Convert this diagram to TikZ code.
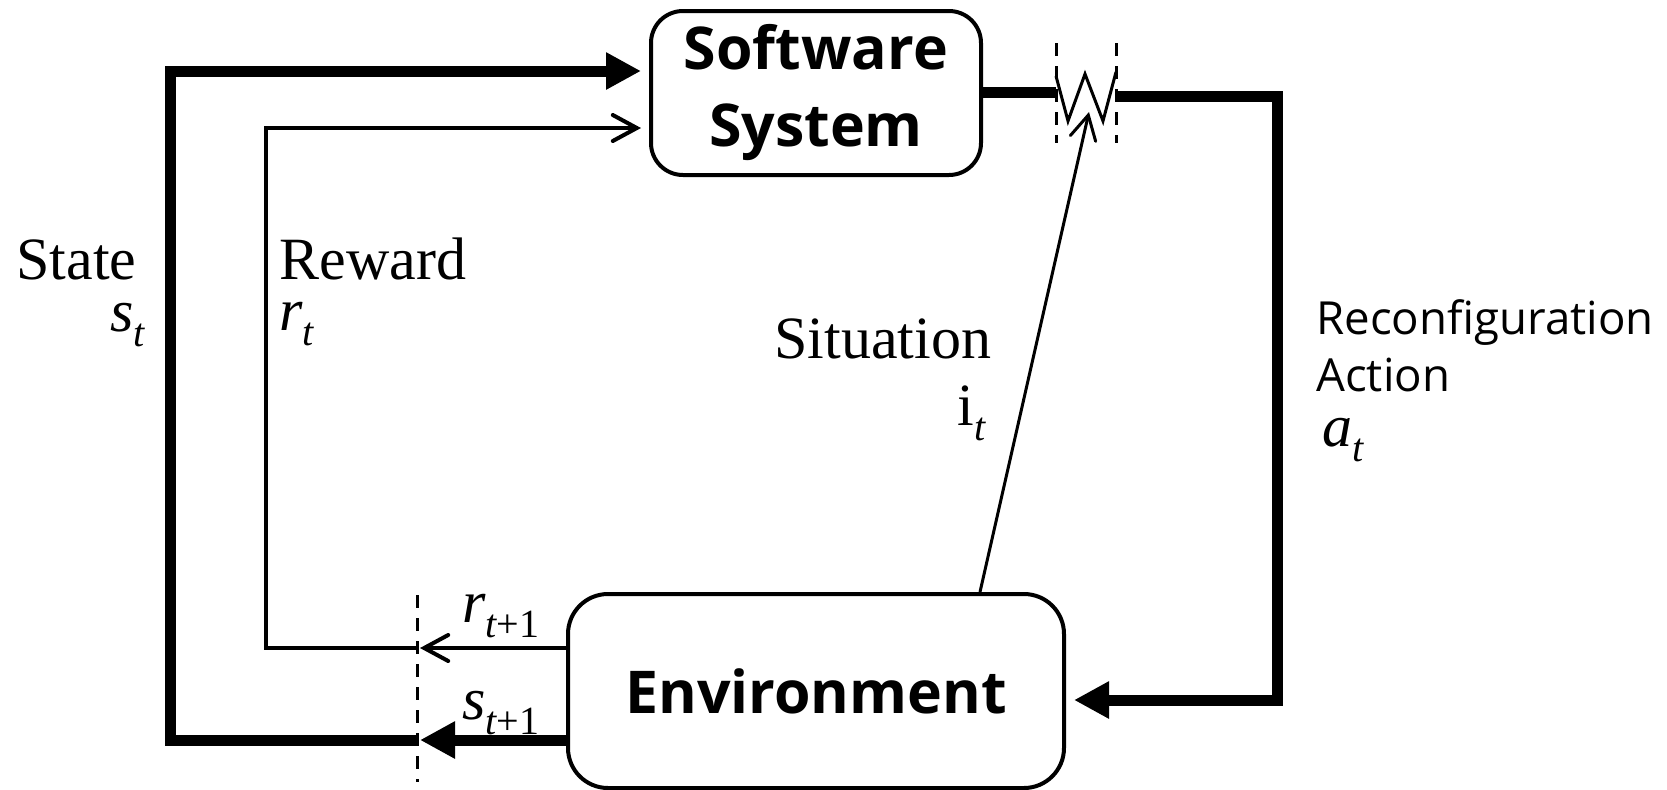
\documentclass[tikz,border=0pt]{standalone}
\usepackage{fontspec}
\setmainfont{Liberation Serif}
\newfontfamily\uisans{Open Sans}
\usetikzlibrary{arrows.meta}

% lowered subscript in the label size
\newcommand\lowsub[1]{\raisebox{-7.5pt}{\fontsize{20}{20}\selectfont #1}}

\begin{document}
\begin{tikzpicture}[x=0.5pt,y=-0.5pt,
  box/.style={draw, line width=2pt, align=center, inner sep=0pt,
    font=\uisans\bfseries\fontsize{29.5}{38.5}\selectfont},
  heavy/.style={line width=5.5pt},
  light/.style={line width=2pt},
  bigtip/.style={-{Triangle[length=17.5pt,width=17.5pt]}},
  smalltip/.style={-{Straight Barb[length=12pt,width=13pt,line cap=round]}},
  gate/.style={line width=1.5pt, dash pattern=on 6.5pt off 5pt},
  lbl/.style={font=\fontsize{30}{30}\selectfont, inner sep=0pt},
  sanslbl/.style={font=\uisans\fontsize{22.8}{28}\selectfont, inner sep=0pt}
]
\useasboundingbox (0,0) rectangle (1667,789);

% the two blocks
\node[box, rounded corners=16pt, minimum width=165pt, minimum height=82pt]
  (sw) at (816,93) {Software\\System};
\node[box, rounded corners=20pt, minimum width=248pt, minimum height=97pt]
  (env) at (816,691) {Environment};

% switch between the software system and the action line
\coordinate (swL) at (1056,92);
\coordinate (swR) at (1116,96);
\draw[gate] (1056,43) -- (1056,143);
\draw[gate] (1116,43) -- (1116,143);
\draw[line width=1.5pt] (1056,76) -- (1068,121) -- (1085,74) -- (1103,121) -- (1116,72);
\coordinate (sel) at (1089,112);

% sampling instant at the feedback lines
\coordinate (gr) at (417,648);
\coordinate (gs) at (417,740);
\draw[gate] (417,595) -- (417,782);

% corner points of the loops
\coordinate (cs1) at (170,740);
\coordinate (cs2) at (170,71);
\coordinate (cr1) at (266,648);
\coordinate (cr2) at (266,128);
\coordinate (ca1) at (1277,96);
\coordinate (ca2) at (1277,700);

% connectors
\draw[heavy] (sw.east |- swL) -- (swL);
\draw[heavy, bigtip] (swR) -- (ca1) -- (ca2) -- ([shift={(4pt,-4.5pt)}]env.east);
\draw[heavy, bigtip] (gs) -- (cs1) -- (cs2) -- ([shift={(-4pt,11pt)}]sw.west);
\draw[light, smalltip] (gr) -- (cr1) -- (cr2) -- ([shift={(-4pt,-17.5pt)}]sw.west);
\draw[heavy, bigtip] (env.west |- gs) -- ([xshift=1.5pt]gs);
\draw[light, smalltip] (env.west |- gr) -- ([xshift=1.5pt]gr);
\draw[line width=1.5pt, smalltip] ([xshift=82pt]env.north) -- (sel);

% labels
\node[lbl, anchor=base west] (lstate) at (16,279) {State};
\node[lbl, anchor=base west] (lst) at (110,331) {\itshape s\lowsub{t}};
\node[lbl, anchor=base west] (lreward) at (279,279) {Reward};
\node[lbl, anchor=base west] (lrt) at (279,330) {\itshape r\lowsub{t}};
\node[lbl, anchor=base west] (lsit) at (774,358) {Situation};
\node[lbl, anchor=base west] (lit) at (957,425) {i\lowsub{\itshape t}};
\node[sanslbl, anchor=base west] (lrec) at (1316,334) {Reconfiguration};
\node[sanslbl, anchor=base west] (lact) at (1316,391) {Action};
\node[lbl, anchor=base west] (lat) at (1322,446) {\itshape a\lowsub{t}};
\node[lbl, anchor=base west] (lrt1) at (462,622) {\itshape r\lowsub{\itshape t\upshape+1}};
\node[lbl, anchor=base west] (lst1) at (462,719) {\itshape s\lowsub{\itshape t\upshape+1}};
\end{tikzpicture}
\end{document}
